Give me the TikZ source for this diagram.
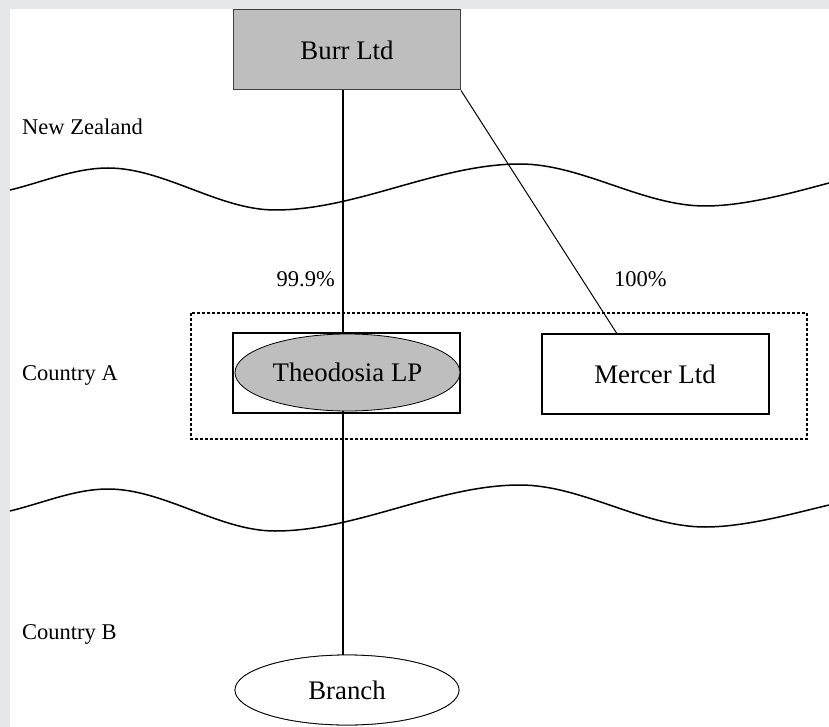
\documentclass[tikz,border=0pt]{standalone}
\usepackage{fontspec}
\setmainfont{Liberation Serif}
\usetikzlibrary{shapes.geometric}

\definecolor{pagegray}{HTML}{E6E7E9}
\definecolor{boxgray}{HTML}{BEBEBE}
\definecolor{edgegray}{HTML}{404040}

\tikzset{
  entity/.style={draw=black, line width=2pt, rectangle, inner sep=0pt,
                 minimum width=227pt, minimum height=80pt,
                 font=\fontsize{26.8}{30}\selectfont},
  parentbox/.style={entity, fill=boxgray, draw=edgegray, line width=1pt},
  partnership/.style={ellipse, draw=black, line width=0.8pt, fill=boxgray, inner sep=0pt,
                 minimum width=225pt, minimum height=77pt,
                 font=\fontsize{26.8}{30}\selectfont},
  branchshape/.style={partnership, fill=white},
  region/.style={anchor=base west, inner sep=0pt, font=\fontsize{22.5}{26}\selectfont},
  share/.style={inner sep=0pt, font=\fontsize{22.5}{26}\selectfont},
  border/.style={line width=1.5pt, black},
  owner/.style={line width=2.2pt, black},
  minority/.style={line width=1pt, black},
  group/.style={draw=black, line width=1.5pt, dash pattern=on 3pt off 2pt}
}

\begin{document}
\begin{tikzpicture}[x=1pt, y=-1pt]
  % page frame
  \fill[pagegray] (0,0) rectangle (829,727);
  \fill[white] (10,9) rectangle (829,727);
  \useasboundingbox (0,0) rectangle (829,727);

  % jurisdiction borders
  \draw[border] (10,190) .. controls (43,182) and (75,168) .. (108,168)
     .. controls (164,168) and (219,210) .. (275,210)
     .. controls (357,210) and (438,164) .. (520,164)
     .. controls (582,164) and (643,206) .. (705,206)
     .. controls (746,206) and (795,192) .. (829,183);
  \draw[border] (10,511) .. controls (43,503) and (75,489) .. (108,489)
     .. controls (164,489) and (219,531) .. (275,531)
     .. controls (357,531) and (438,485) .. (520,485)
     .. controls (582,485) and (643,527) .. (705,527)
     .. controls (746,527) and (795,513) .. (829,505);

  % region labels
  \node[region] (nz) at (22,135) {New Zealand};
  \node[region] (ca) at (22,380) {Country A};
  \node[region] (cb) at (22,639) {Country B};

  % entities
  \node[parentbox] (burr) at (347,50) {};
  \node[entity] (theoBox) at (346.5,373) {};
  \node[entity] (mercer) at (655,374) {Mercer Ltd};
  \draw[group] (191,313) rectangle (807,439);
  \node[branchshape, minimum height=70pt, minimum width=224pt] (branch) at (347,690) {};

  % ownership lines
  \draw[owner] ([xshift=-4pt]burr.south) -- ([xshift=-4pt]branch.north);
  \draw[minority] (burr.south east) -- ([xshift=76pt]mercer.north west);

  % shapes drawn over the ownership line
  \node[partnership] (theo) at (347.5,372.5) {Theodosia LP};
  \node[parentbox, fill=boxgray] at (burr) {Burr Ltd};
  \node[branchshape, minimum height=70pt, minimum width=224pt] at (branch) {Branch};

  % holdings
  \node[share, anchor=base east] (p1) at (335,286) {99.9\%};
  \node[share, anchor=base west] (p2) at (614,286) {100\%};
\end{tikzpicture}
\end{document}
